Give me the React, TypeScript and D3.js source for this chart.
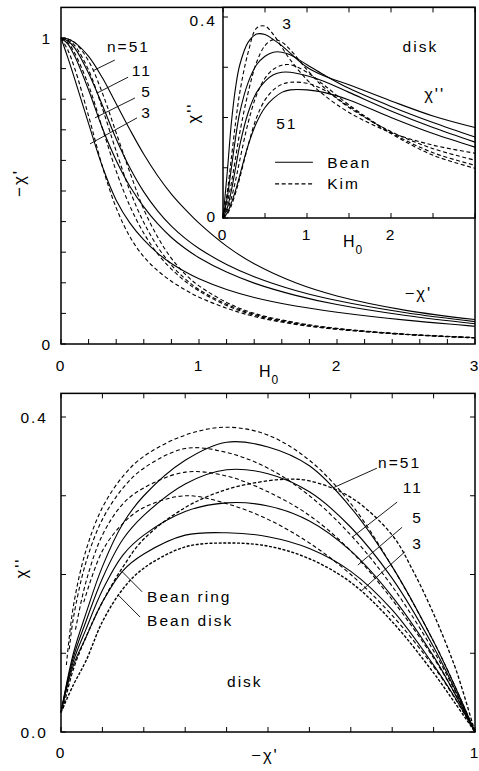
import React, { useEffect, useRef } from 'react';
import * as d3 from 'd3';

const WIDTH = 479;
const HEIGHT = 771;

// ---- top panel: -chi' against H0 ----
const fieldTop = [0, 0.05, 0.1, 0.2, 0.3, 0.4, 0.5, 0.6, 0.7, 0.8, 0.9, 1.0, 1.2, 1.4, 1.7, 2.0, 2.5, 3.0];
const beanReal51 = [1, 0.997, 0.985, 0.94, 0.87, 0.785, 0.7, 0.62, 0.55, 0.49, 0.44, 0.395, 0.32, 0.262, 0.2, 0.157, 0.11, 0.08];
const beanReal11 = [1, 0.99, 0.967, 0.885, 0.78, 0.67, 0.575, 0.497, 0.435, 0.385, 0.345, 0.312, 0.26, 0.22, 0.175, 0.142, 0.102, 0.073];
const beanReal5 = [1, 0.98, 0.94, 0.83, 0.705, 0.6, 0.515, 0.448, 0.393, 0.348, 0.312, 0.282, 0.235, 0.199, 0.159, 0.129, 0.093, 0.066];
const beanReal3 = [1, 0.935, 0.865, 0.72, 0.58, 0.47, 0.395, 0.34, 0.297, 0.263, 0.236, 0.213, 0.178, 0.152, 0.124, 0.104, 0.078, 0.058];
const kimReal3 = [1, 0.96, 0.9, 0.745, 0.58, 0.445, 0.35, 0.285, 0.24, 0.205, 0.177, 0.153, 0.117, 0.09, 0.064, 0.048, 0.031, 0.02];
const kimReal5 = [1, 0.985, 0.95, 0.845, 0.705, 0.565, 0.45, 0.362, 0.295, 0.245, 0.205, 0.173, 0.126, 0.094, 0.066, 0.049, 0.031, 0.02];
const kimReal11 = [1, 0.993, 0.975, 0.895, 0.77, 0.63, 0.5, 0.397, 0.318, 0.258, 0.213, 0.178, 0.13, 0.097, 0.068, 0.05, 0.032, 0.021];
const kimReal51 = [1, 0.997, 0.985, 0.925, 0.82, 0.69, 0.56, 0.44, 0.35, 0.28, 0.228, 0.19, 0.136, 0.1, 0.07, 0.051, 0.032, 0.021];

// ---- inset: chi'' against H0 ----
const fieldInset = [0, 0.05, 0.1, 0.15, 0.2, 0.3, 0.4, 0.5, 0.6, 0.7, 0.8, 1.0, 1.2, 1.5, 2.0, 2.5, 3.0];
const beanImag3 = [0, 0.09, 0.19, 0.26, 0.305, 0.35, 0.366, 0.365, 0.355, 0.343, 0.328, 0.3, 0.283, 0.265, 0.233, 0.203, 0.18];
const beanImag5 = [0, 0.04, 0.1, 0.16, 0.21, 0.27, 0.305, 0.322, 0.33, 0.33, 0.325, 0.305, 0.285, 0.258, 0.222, 0.19, 0.161];
const beanImag11 = [0, 0.02, 0.055, 0.1, 0.145, 0.21, 0.25, 0.272, 0.285, 0.29, 0.29, 0.283, 0.272, 0.25, 0.213, 0.18, 0.151];
const beanImag51 = [0, 0.01, 0.03, 0.055, 0.085, 0.145, 0.19, 0.22, 0.238, 0.25, 0.255, 0.255, 0.25, 0.235, 0.2, 0.168, 0.141];
const kimImag3 = [0, 0.05, 0.12, 0.19, 0.25, 0.33, 0.378, 0.382, 0.365, 0.34, 0.315, 0.275, 0.245, 0.21, 0.17, 0.145, 0.129];
const kimImag5 = [0, 0.03, 0.07, 0.12, 0.17, 0.25, 0.31, 0.343, 0.355, 0.35, 0.335, 0.295, 0.26, 0.22, 0.172, 0.138, 0.115];
const kimImag11 = [0, 0.015, 0.04, 0.075, 0.115, 0.19, 0.245, 0.278, 0.296, 0.304, 0.305, 0.29, 0.265, 0.225, 0.17, 0.13, 0.105];
const kimImag51 = [0, 0.008, 0.025, 0.05, 0.08, 0.145, 0.2, 0.235, 0.255, 0.266, 0.27, 0.268, 0.255, 0.222, 0.168, 0.125, 0.099];

// ---- bottom panel: chi'' against -chi' ----
const realGrid = [0, 0.03, 0.06, 0.1, 0.15, 0.2, 0.3, 0.4, 0.5, 0.6, 0.7, 0.8, 0.9, 0.95, 1.0];
const solid1 = [0.025, 0.1, 0.15, 0.21, 0.265, 0.3, 0.345, 0.368, 0.362, 0.338, 0.285, 0.21, 0.115, 0.06, 0];
const solid2 = [0.025, 0.095, 0.14, 0.195, 0.245, 0.275, 0.315, 0.333, 0.328, 0.305, 0.26, 0.195, 0.108, 0.056, 0];
const solid3 = [0.025, 0.09, 0.13, 0.18, 0.225, 0.25, 0.28, 0.291, 0.287, 0.268, 0.23, 0.172, 0.096, 0.05, 0];
const beanRing = [0.025, 0.085, 0.12, 0.165, 0.205, 0.226, 0.25, 0.253, 0.248, 0.233, 0.204, 0.155, 0.085, 0.045, 0];
const beanDisk = [0.025, 0.06, 0.09, 0.14, 0.182, 0.208, 0.235, 0.24, 0.236, 0.22, 0.19, 0.14, 0.075, 0.038, 0];
const dashed1Re = [0.013, 0.03, 0.06, 0.1, 0.15, 0.2, 0.3, 0.4, 0.5, 0.6, 0.7, 0.8, 0.9, 0.95, 1.0];
const dashed1Im = [0.085, 0.16, 0.23, 0.285, 0.325, 0.35, 0.377, 0.387, 0.377, 0.345, 0.29, 0.21, 0.115, 0.06, 0];
const dashed2Re = [0.02, 0.03, 0.06, 0.1, 0.15, 0.2, 0.3, 0.4, 0.5, 0.6, 0.7, 0.8, 0.9, 0.95, 1.0];
const dashed2Im = [0.105, 0.145, 0.215, 0.27, 0.31, 0.335, 0.36, 0.355, 0.335, 0.3, 0.25, 0.185, 0.103, 0.054, 0];
const dashed3Re = [0.035, 0.06, 0.1, 0.15, 0.2, 0.3, 0.4, 0.5, 0.6, 0.7, 0.8, 0.9, 0.95, 1.0];
const dashed3Im = [0.13, 0.19, 0.25, 0.29, 0.31, 0.33, 0.325, 0.305, 0.275, 0.23, 0.168, 0.094, 0.05, 0];
const dashed4Re = [0.055, 0.1, 0.15, 0.2, 0.3, 0.4, 0.5, 0.6, 0.7, 0.8, 0.9, 0.95, 1.0];
const dashed4Im = [0.165, 0.23, 0.265, 0.285, 0.3, 0.29, 0.27, 0.24, 0.2, 0.148, 0.083, 0.044, 0];
const dashed51Re = [0.005, 0.03, 0.06, 0.1, 0.15, 0.2, 0.3, 0.4, 0.5, 0.55, 0.6, 0.7, 0.8, 0.85, 0.9, 0.95, 0.97, 1.0];
const dashed51Im = [0.03, 0.08, 0.12, 0.165, 0.21, 0.245, 0.285, 0.308, 0.319, 0.321, 0.319, 0.298, 0.25, 0.205, 0.15, 0.085, 0.053, 0];

const topXLabels = [0, 1, 2, 3];
const topYLabels = [0, 1];
const insetXLabels = [0, 1, 2];
const insetYLabels = ['0', '0.4'];
const bottomXLabels = [0, 1];
const bottomYLabels = ['0.0', '0.4'];
const stackLabels = ['n=51', '11', '5', '3'];

const FONT = "'Liberation Sans', Arial, sans-serif";
const DASH = '4,2.6';

type Series = { x: number[]; y: number[]; dash?: string; width?: number };

export default function App() {
  const ref = useRef<SVGSVGElement>(null);

  useEffect(() => {
    const svg = d3.select(ref.current);
    svg.selectAll('*').remove();
    svg.append('rect').attr('width', WIDTH).attr('height', HEIGHT).attr('fill', '#fff');
    const root = svg.append('g').attr('font-family', FONT).attr('fill', '#000');

    // draw a set of curves with the given scales
    function curves(g: any, series: Series[], sx: any, sy: any) {
      series.forEach(s => {
        const gen = d3.line<number>()
          .x((_, i) => sx(s.x[i]))
          .y(d => sy(d))
          .curve(d3.curveCatmullRom.alpha(0.5));
        g.append('path')
          .attr('d', gen(s.y))
          .attr('fill', 'none')
          .attr('stroke', '#000')
          .attr('stroke-width', s.width ?? 1.1)
          .attr('stroke-dasharray', s.dash ?? null);
      });
    }

    function ticksX(g: any, sx: any, vals: number[], y: number, len: number) {
      vals.forEach(v => g.append('line')
        .attr('x1', sx(v)).attr('x2', sx(v)).attr('y1', y).attr('y2', y + len)
        .attr('stroke', '#000').attr('stroke-width', 1));
    }
    function ticksY(g: any, sy: any, vals: number[], x: number, len: number) {
      vals.forEach(v => g.append('line')
        .attr('x1', x).attr('x2', x + len).attr('y1', sy(v)).attr('y2', sy(v))
        .attr('stroke', '#000').attr('stroke-width', 1));
    }
    function txt(g: any, x: number, y: number, s: string, anchor = 'middle', size = 15.5) {
      return g.append('text')
        .attr('x', x).attr('y', y)
        .attr('text-anchor', anchor)
        .attr('dominant-baseline', 'central')
        .attr('font-size', size)
        .attr('letter-spacing', 2)
        .text(s);
    }
    function leader(g: any, sx: any, sy: any, a: number[], b: number[]) {
      g.append('line')
        .attr('x1', sx(a[0])).attr('y1', sy(a[1]))
        .attr('x2', sx(b[0])).attr('y2', sy(b[1]))
        .attr('stroke', '#000').attr('stroke-width', 0.9);
    }
    function frame(g: any, x0: number, x1: number, y0: number, y1: number, fill = 'none') {
      g.append('rect')
        .attr('x', x0).attr('y', y0).attr('width', x1 - x0).attr('height', y1 - y0)
        .attr('fill', fill).attr('stroke', '#000').attr('stroke-width', 1.5);
    }
    function fieldLabel(g: any, x: number, y: number) {
      const t = g.append('text').attr('x', x).attr('y', y).attr('font-size', 16).attr('letter-spacing', 1);
      t.append('tspan').text('H');
      t.append('tspan').attr('font-size', 12).attr('dy', 7).text('0');
    }

    // ======== top panel ========
    const xTop = d3.scaleLinear().domain([0, 3]).range([61, 475]);
    const yTop = d3.scaleLinear().domain([0, 1]).range([344, 38]);
    const top = root.append('g');
    curves(top, [
      { x: fieldTop, y: beanReal51 },
      { x: fieldTop, y: beanReal11 },
      { x: fieldTop, y: beanReal5 },
      { x: fieldTop, y: beanReal3 },
      { x: fieldTop, y: kimReal3, dash: DASH },
      { x: fieldTop, y: kimReal5, dash: DASH },
      { x: fieldTop, y: kimReal11, dash: DASH },
      { x: fieldTop, y: kimReal51, dash: DASH },
    ], xTop, yTop);
    frame(top, xTop(0), xTop(3), yTop(1.1), yTop(0));
    ticksY(top, yTop, d3.range(0, 1.001, 0.1), xTop(0), 5);
    ticksX(top, xTop, d3.range(0, 3.001, 0.2), yTop(0), -5);
    topYLabels.forEach(v => txt(top, 52, yTop(v), String(v), 'end'));
    topXLabels.forEach(v => txt(top, xTop(v), 365, String(v)));
    fieldLabel(top, 259, 377);
    txt(top, 0, 0, "\u2212\u03c7'", 'middle', 17).attr('transform', 'translate(19,183) rotate(-90)');
    txt(top, xTop(2.59), yTop(0.167), "\u2212\u03c7'", 'middle', 16.5);

    // stack number labels with leaders
    const topLabelPos = [[0.333, 0.971, 'start'], [0.659, 0.895, 'end'], [0.659, 0.824, 'end'], [0.659, 0.755, 'end']];
    const topLeaders = [
      [[0.39, 0.928], [0.232, 0.893]],
      [[0.486, 0.872], [0.261, 0.82]],
      [[0.536, 0.804], [0.246, 0.739]],
      [[0.551, 0.739], [0.21, 0.654]],
    ];
    stackLabels.forEach((s, i) => {
      const p = topLabelPos[i];
      txt(top, xTop(p[0] as number), yTop(p[1] as number), s, p[2] as string);
      leader(top, xTop, yTop, topLeaders[i][0], topLeaders[i][1]);
    });

    // ======== inset ========
    const xIn = d3.scaleLinear().domain([0, 3]).range([223, 475]);
    const yIn = d3.scaleLinear().domain([0, 0.4]).range([218, 17]);
    const inset = root.append('g');
    frame(inset, xIn(0), xIn(3), yTop(1.1), yIn(0), '#fff');
    curves(inset, [
      { x: fieldInset, y: beanImag3 },
      { x: fieldInset, y: beanImag5 },
      { x: fieldInset, y: beanImag11 },
      { x: fieldInset, y: beanImag51 },
      { x: fieldInset, y: kimImag3, dash: DASH },
      { x: fieldInset, y: kimImag5, dash: DASH },
      { x: fieldInset, y: kimImag11, dash: DASH },
      { x: fieldInset, y: kimImag51, dash: DASH },
    ], xIn, yIn);
    ticksY(inset, yIn, d3.range(0, 0.401, 0.1), xIn(0), 5);
    ticksX(inset, xIn, d3.range(0, 3.001, 0.5), yIn(0), -5);
    ticksX(inset, xIn, d3.range(0, 3.001, 0.5), yTop(1.1), 5);
    insetYLabels.forEach(s => txt(inset, 217, yIn(+s) + (+s > 0 ? 3 : -2), s, 'end'));
    insetXLabels.forEach(v => txt(inset, xIn(v), 234, String(v)));
    fieldLabel(inset, 343, 247);
    txt(inset, 0, 0, "\u03c7''", 'middle', 16.5).attr('transform', 'translate(193,113) rotate(-90)');
    txt(inset, xIn(2.35), yIn(0.342), 'disk');
    txt(inset, xIn(2.52), yIn(0.247), "\u03c7''", 'middle', 16.5);
    txt(inset, xIn(0.77), yIn(0.388), '3');
    txt(inset, xIn(0.76), yIn(0.189), '51');
    // legend
    const legend = [['Bean', null, 0.111], ['Kim', DASH, 0.068]];
    legend.forEach(([name, dash, v]) => {
      inset.append('line')
        .attr('x1', xIn(0.62)).attr('x2', xIn(1.07))
        .attr('y1', yIn(v as number)).attr('y2', yIn(v as number))
        .attr('stroke', '#000').attr('stroke-width', 1.1)
        .attr('stroke-dasharray', dash as any);
      txt(inset, xIn(1.24), yIn(v as number), name as string, 'start');
    });

    // ======== bottom panel ========
    const xBot = d3.scaleLinear().domain([0, 1]).range([61, 475]);
    const yBot = d3.scaleLinear().domain([0, 0.4]).range([732, 417]);
    const bot = root.append('g');
    curves(bot, [
      { x: realGrid, y: solid1 },
      { x: realGrid, y: solid2 },
      { x: realGrid, y: solid3 },
      { x: realGrid, y: beanRing },
      { x: realGrid, y: beanDisk, dash: '3,1.6', width: 1.4 },
      { x: dashed1Re, y: dashed1Im, dash: DASH },
      { x: dashed2Re, y: dashed2Im, dash: DASH },
      { x: dashed3Re, y: dashed3Im, dash: DASH },
      { x: dashed4Re, y: dashed4Im, dash: DASH },
      { x: dashed51Re, y: dashed51Im, dash: '3.5,2', width: 1.3 },
    ], xBot, yBot);
    frame(bot, xBot(0), xBot(1), yBot(0.43), yBot(0));
    const tb = d3.range(0, 1.001, 0.1);
    const tl = d3.range(0, 0.401, 0.1);
    ticksX(bot, xBot, tb, yBot(0), -5);
    ticksX(bot, xBot, tb, yBot(0.43), 5);
    ticksY(bot, yBot, tl, xBot(0), 5);
    ticksY(bot, yBot, tl, xBot(1), -5);
    bottomYLabels.forEach(s => txt(bot, 48, yBot(+s), s, 'end'));
    bottomXLabels.forEach(v => txt(bot, xBot(v), 752, String(v)));
    txt(bot, 265, 755, "\u2212\u03c7'", 'middle', 16.5);
    txt(bot, 0, 0, "\u03c7''", 'middle', 16.5).attr('transform', 'translate(21,568) rotate(-90)');
    txt(bot, xBot(0.444), yBot(0.064), 'disk');

    const botLabelPos = [[0.766, 0.342, 'start'], [0.874, 0.311, 'end'], [0.874, 0.273, 'end'], [0.874, 0.24, 'end']];
    const botLeaders = [
      [[0.763, 0.335], [0.657, 0.31]],
      [[0.812, 0.292], [0.705, 0.248]],
      [[0.824, 0.26], [0.717, 0.212]],
      [[0.831, 0.229], [0.727, 0.18]],
    ];
    stackLabels.forEach((s, i) => {
      const p = botLabelPos[i];
      txt(bot, xBot(p[0] as number), yBot(p[1] as number), s, p[2] as string);
      leader(bot, xBot, yBot, botLeaders[i][0], botLeaders[i][1]);
    });
    txt(bot, xBot(0.208), yBot(0.172), 'Bean ring', 'start');
    txt(bot, xBot(0.208), yBot(0.142), 'Bean disk', 'start');
    leader(bot, xBot, yBot, [0.196, 0.178], [0.147, 0.204]);
    leader(bot, xBot, yBot, [0.191, 0.146], [0.138, 0.174]);
  }, []);

  return (
    <svg
      ref={ref}
      width={WIDTH}
      height={HEIGHT}
      style={{ position: 'absolute', left: 0, top: 0 }}
    />
  );
}
